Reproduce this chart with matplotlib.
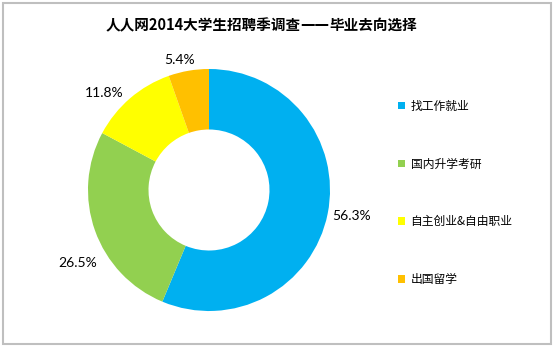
import matplotlib
matplotlib.use('Agg')
import matplotlib.pyplot as plt
from matplotlib.patches import Rectangle
from matplotlib.transforms import ScaledTranslation

plt.rcParams['font.family'] = ['Noto Sans CJK SC', 'DejaVu Sans']

# 数据
categories = ['找工作就业', '国内升学考研', '自主创业&自由职业', '出国留学']
shares = [56.3, 26.5, 11.8, 5.4]
colors = ['#00B0F0', '#92D050', '#FFFF00', '#FFC000']
title_parts = ['人人网2014大学生招聘季调查', '——', '毕业去向选择']

# 数据标签微调(像素, 右/下为正)
label_nudge = [(0, -3), (5, 24), (-10, 13), (-5, 13)]

W, H = 554, 349
fig = plt.figure(figsize=(W / 100, H / 100), dpi=100)

# 圆环图
cx, cy, r = 209, 190, 121
ax = fig.add_axes([(cx - r) / W, (H - cy - r) / H, 2 * r / W, 2 * r / H])
wedges, texts, autotexts = ax.pie(
    shares, colors=colors, startangle=90, counterclock=False,
    autopct='%.1f%%', pctdistance=1.2,
    wedgeprops=dict(width=0.5, edgecolor='none'),
    textprops=dict(fontsize=10, color='#000000', family=['Lato', 'DejaVu Sans']))
ax.set_xlim(-1, 1)
ax.set_ylim(-1, 1)
ax.set_aspect('equal')
for t, (dx, dy) in zip(autotexts, label_nudge):
    t.set_transform(ax.transData + ScaledTranslation(dx / 100, -dy / 100, fig.dpi_scale_trans))

# 图例
fig.legend(wedges, categories, loc='upper left',
           bbox_to_anchor=(387 / W, 1 - 89 / H), frameon=False,
           fontsize=8.5, handlelength=0.6, handleheight=0.6,
           handletextpad=0.5, labelspacing=3.8)

# 标题(破折号用 DejaVu 画成连续的线)
renderer = fig.canvas.get_renderer()
fams = [['Noto Sans CJK SC'], ['DejaVu Sans'], ['Noto Sans CJK SC']]
objs = []
for s, f in zip(title_parts, fams):
    objs.append(fig.text(0, 1 - 25 / H, s, ha='left', va='center',
                         fontsize=10.5, fontweight='bold', family=f))
widths = [o.get_window_extent(renderer).width for o in objs]
x = 261 - sum(widths) / 2
for o, w in zip(objs, widths):
    o.set_x(x / W)
    x += w

# 外框
fig.patches.append(Rectangle((3 / W, 5 / H), 548 / W, 341 / H,
                             transform=fig.transFigure, fill=False,
                             edgecolor='#bfbfbf', linewidth=1.5))

plt.savefig('out.png', dpi=100)
